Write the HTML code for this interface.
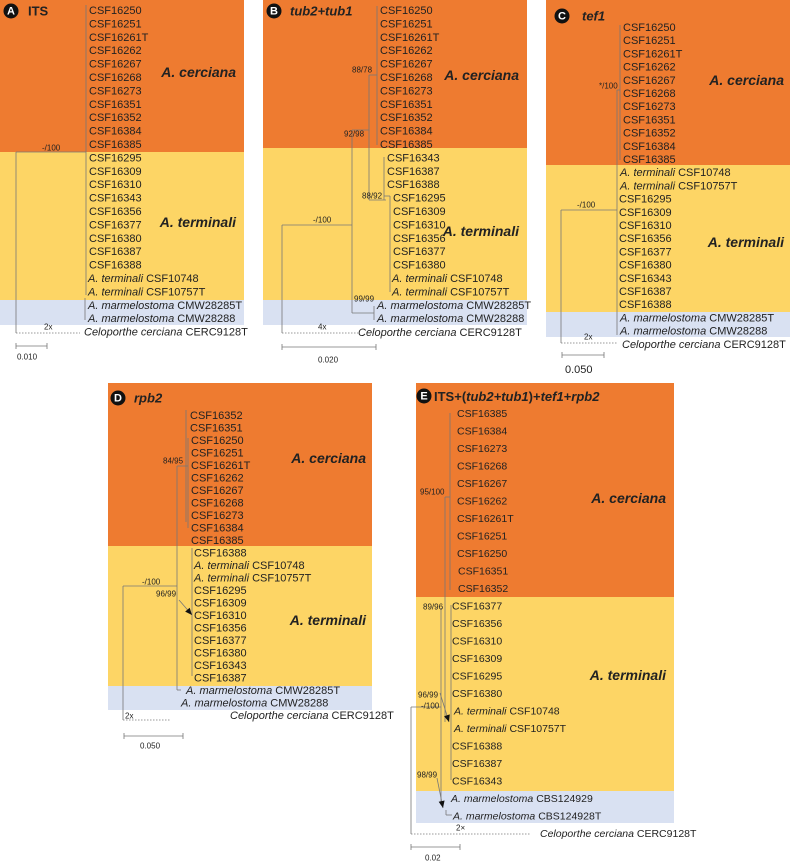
<!DOCTYPE html>
<html><head><meta charset="utf-8"><style>
html,body{margin:0;padding:0;background:#fff}
svg{display:block;font-family:"Liberation Sans",Arial,sans-serif}
</style></head><body>
<svg id="s" width="790" height="862" viewBox="0 0 790 862" xmlns="http://www.w3.org/2000/svg"></svg>
<script>
const NS='http://www.w3.org/2000/svg';
const svg=document.getElementById('s');
const ORANGE='#ee7b30',YELLOW='#fdd565',BLUE='#d9e1f2',LINE='#777';

const taxaA=['CSF16250','CSF16251','CSF16261T','CSF16262','CSF16267','CSF16268','CSF16273','CSF16351','CSF16352','CSF16384','CSF16385','CSF16295','CSF16309','CSF16310','CSF16343','CSF16356','CSF16377','CSF16380','CSF16387','CSF16388','A. terminali|CSF10748','A. terminali|CSF10757T','A. marmelostoma|CMW28285T','A. marmelostoma|CMW28288','Celoporthe cerciana|CERC9128T'];
const taxaB=['CSF16250','CSF16251','CSF16261T','CSF16262','CSF16267','CSF16268','CSF16273','CSF16351','CSF16352','CSF16384','CSF16385','CSF16343','CSF16387','CSF16388','CSF16295','CSF16309','CSF16310','CSF16356','CSF16377','CSF16380','A. terminali|CSF10748','A. terminali|CSF10757T','A. marmelostoma|CMW28285T','A. marmelostoma|CMW28288'];
const taxaC=['CSF16250','CSF16251','CSF16261T','CSF16262','CSF16267','CSF16268','CSF16273','CSF16351','CSF16352','CSF16384','CSF16385','A. terminali|CSF10748','A. terminali|CSF10757T','CSF16295','CSF16309','CSF16310','CSF16356','CSF16377','CSF16380','CSF16343','CSF16387','CSF16388','A. marmelostoma|CMW28285T','A. marmelostoma|CMW28288','Celoporthe cerciana|CERC9128T'];
const taxaD=['CSF16352','CSF16351','CSF16250','CSF16251','CSF16261T','CSF16262','CSF16267','CSF16268','CSF16273','CSF16384','CSF16385','CSF16388','A. terminali|CSF10748','A. terminali|CSF10757T','CSF16295','CSF16309','CSF16310','CSF16356','CSF16377','CSF16380','CSF16343','CSF16387','A. marmelostoma|CMW28285T','A. marmelostoma|CMW28288','Celoporthe cerciana|CERC9128T'];
const taxaE=['CSF16385','CSF16384','CSF16273','CSF16268','CSF16267','CSF16262','CSF16261T','CSF16251','CSF16250','CSF16351','CSF16352','CSF16377','CSF16356','CSF16310','CSF16309','CSF16295','CSF16380','A. terminali|CSF10748','A. terminali|CSF10757T','CSF16388','CSF16387','CSF16343','A. marmelostoma|CBS124929','A. marmelostoma|CBS124928T','Celoporthe cerciana|CERC9128T'];

function el(tag,attrs,parent){const e=document.createElementNS(NS,tag);for(const k in attrs)e.setAttribute(k,attrs[k]);(parent||svg).appendChild(e);return e;}
function rect(x,y,w,h,f,name){const r=el('rect',{x,y,width:w,height:h,fill:f});return r;}
function line(x1,y1,x2,y2,dash){const l=el('line',{x1,y1,x2,y2,stroke:LINE,'stroke-width':0.8});if(dash)l.setAttribute('stroke-dasharray','1.5,1.5');return l;}
function text(x,y,str,size,opts){opts=opts||{};const t=el('text',{x,y,'font-size':size,fill:opts.fill||'#222','dominant-baseline':'central'});if(opts.bold)t.setAttribute('font-weight','bold');if(opts.italic)t.setAttribute('font-style','italic');if(opts.anchor)t.setAttribute('text-anchor',opts.anchor);t.textContent=str;return t;}
function taxon(x,y,s,size){const t=el('text',{x,y,'font-size':size,fill:'#222','dominant-baseline':'central'});
 if(s.includes('|')){const p=s.split('|');const a=el('tspan',{'font-style':'italic'},t);a.textContent=p[0]+' ';const b=el('tspan',{},t);b.textContent=p[1];}else t.textContent=s;}
function badge(x,y,ch){const c=el('circle',{cx:x,cy:y,r:7.5,fill:'#111'});text(x,y+0.5,ch,11,{fill:'#fff',anchor:'middle',bold:true,name:'panel-letter'});}
function arrow(x1,y1,x2,y2){line(x1,y1,x2,y2);const a=Math.atan2(y2-y1,x2-x1),L=7,W=3;
 const p=[[x2,y2],[x2-L*Math.cos(a)+W*Math.sin(a),y2-L*Math.sin(a)-W*Math.cos(a)],[x2-L*Math.cos(a)-W*Math.sin(a),y2-L*Math.sin(a)+W*Math.cos(a)]];
 const g=el('polygon',{points:p.map(q=>q.join(',')).join(' '),fill:'#111'});}
function rows(list,y0,dy,xs,size){list.forEach((s,i)=>taxon(xs(i),y0+dy*i,s,size));}

// ===== Panel A =====
rect(0,0,244,152,ORANGE,'cerciana-clade-a');rect(0,152,244,148,YELLOW,'terminali-clade-a');rect(0,300,244,25,BLUE,'marmelostoma-clade-a');
badge(11,11,'A');text(28,11,'ITS',13,{bold:true,name:'panel-title'});
rows(taxaA,11,13.4,i=>i<20?89:(i<24?88:84),11);
text(236,72,'A. cerciana',14,{bold:true,italic:true,anchor:'end',name:'species-label'});
text(236,222,'A. terminali',14,{bold:true,italic:true,anchor:'end',name:'species-label'});
line(86,5,86,295);line(85,298,85,320);line(16,152,86,152);line(16,152,16,333);line(16,333,80,333,true);
text(42,148,'-/100',8,{name:'support'});text(44,327,'2x',8,{name:'break'});
line(16,346,47,346);line(16,343,16,349);line(47,343,47,349);text(17,357,'0.010',8,{name:'scale-label'});

// ===== Panel B =====
rect(263,0,264,148,ORANGE,'cerciana-clade-b');rect(263,148,264,152,YELLOW,'terminali-clade-b');rect(263,300,264,25,BLUE,'marmelostoma-clade-b');
badge(274,11,'B');text(290,11,'tub2+tub1',13,{bold:true,italic:true,name:'panel-title'});
rows(taxaB,11,13.4,i=>i<11?380:(i<14?387:(i<20?393:(i<22?392:377))),11);
text(519,75,'A. cerciana',14,{bold:true,italic:true,anchor:'end',name:'species-label'});
text(519,231,'A. terminali',14,{bold:true,italic:true,anchor:'end',name:'species-label'});
line(377,6,377,145);line(369,75,377,75);line(369,75,369,200);line(369,200,386,200);
line(384,157,384,200);line(390,196,390,292);line(384,196,390,196);
line(352,130,352,313);line(352,130,369,130);line(352,313,374,313);line(374,306,374,320);
line(282,225,352,225);line(282,225,282,333);line(282,333,358,333,true);
text(352,70,'88/78',8,{name:'support'});text(344,134,'92/98',8,{name:'support'});text(362,196,'88/92',8,{name:'support'});
text(313,220,'-/100',8,{name:'support'});text(354,299,'99/99',8,{name:'support'});text(318,327,'4x',8,{name:'break'});
taxon(358,333,'Celoporthe cerciana|CERC9128T',11);
line(282,347,376,347);line(282,344,282,350);line(376,344,376,350);text(318,360,'0.020',8,{name:'scale-label'});

// ===== Panel C =====
rect(546,0,244,165,ORANGE,'cerciana-clade-c');rect(546,165,244,147,YELLOW,'terminali-clade-c');rect(546,312,244,25,BLUE,'marmelostoma-clade-c');
badge(562,16,'C');text(582,16,'tef1',13,{bold:true,italic:true,name:'panel-title'});
rows(taxaC,28,13.2,i=>i<11?623:(i<13?620:(i<22?619:(i<24?620:622))),11);
text(784,80,'A. cerciana',14,{bold:true,italic:true,anchor:'end',name:'species-label'});
text(784,242,'A. terminali',14,{bold:true,italic:true,anchor:'end',name:'species-label'});
line(620,25,620,160);line(617,90,617,335);line(617,90,620,90);
line(561,210,617,210);line(561,210,561,343);line(561,343,618,343,true);
text(599,86,'*/100',8,{name:'support'});text(577,205,'-/100',8,{name:'support'});text(584,337,'2x',8,{name:'break'});
line(562,355,604,355);line(562,352,562,358);line(604,352,604,358);text(565,370,'0.050',11,{name:'scale-label'});

// ===== Panel D =====
rect(108,383,264,163,ORANGE,'cerciana-clade-d');rect(108,546,264,140,YELLOW,'terminali-clade-d');rect(108,686,264,24,BLUE,'marmelostoma-clade-d');
badge(118,398,'D');text(134,398,'rpb2',13,{bold:true,italic:true,name:'panel-title'});
rows(taxaD,416,12.5,i=>i<2?190:(i<11?191:(i<22?194:(i<23?186:(i<24?181:230)))),11);
text(366,458,'A. cerciana',14,{bold:true,italic:true,anchor:'end',name:'species-label'});
text(366,620,'A. terminali',14,{bold:true,italic:true,anchor:'end',name:'species-label'});
line(186,410,186,522);line(188,438,188,528);line(177,466,188,466);line(177,466,177,690);line(177,690,181,690);
line(192,548,192,676);line(123,586,177,586);line(123,586,123,720);line(123,720,170,720,true);
arrow(179,600,192,615);
text(163,461,'84/95',8,{name:'support'});text(142,582,'-/100',8,{name:'support'});text(156,594,'96/99',8,{name:'support'});text(125,716,'2x',8,{name:'break'});
line(124,736,183,736);line(124,733,124,739);line(183,733,183,739);text(140,746,'0.050',8,{name:'scale-label'});

// ===== Panel E =====
rect(416,383,258,214,ORANGE,'cerciana-clade-e');rect(416,597,258,194,YELLOW,'terminali-clade-e');rect(416,791,258,32,BLUE,'marmelostoma-clade-e');
badge(424,396,'E');
(function(){const t=el('text',{x:434,y:396,'font-size':13,'font-weight':'bold',fill:'#222','dominant-baseline':'central'});

[['ITS+(',0],['tub2+tub1',1],[')+',0],['tef1',1],['+',0],['rpb2',1]].forEach(p=>{const s=el('tspan',p[1]?{'font-style':'italic'}:{},t);s.textContent=p[0];});})();
rows(taxaE,414,17.5,i=>i<9?457:(i<11?458:(i<17?452:(i<19?454:(i<22?452:(i<23?451:(i<24?453:540)))))),10.5);
text(666,498,'A. cerciana',14,{bold:true,italic:true,anchor:'end',name:'species-label'});
text(666,675,'A. terminali',14,{bold:true,italic:true,anchor:'end',name:'species-label'});
line(450,413,450,590);line(445,497,450,497);line(445,497,445,722);
line(441,608,441,805);line(451,605,451,780);line(411,707,441,707);line(411,707,411,834);line(411,834,531,834,true);
arrow(440,693,449,722);arrow(437,778,443,808);line(446,810,446,815);line(446,815,452,815);
text(420,492,'95/100',8,{name:'support'});text(423,607,'89/96',8,{name:'support'});text(418,695,'96/99',8,{name:'support'});
text(421,706,'-/100',8,{name:'support'});text(417,775,'98/99',8,{name:'support'});text(456,828,'2×',8,{name:'break'});
line(411,847,460,847);line(411,844,411,850);line(460,844,460,850);text(425,858,'0.02',8,{name:'scale-label'});
</script>
</body></html>
